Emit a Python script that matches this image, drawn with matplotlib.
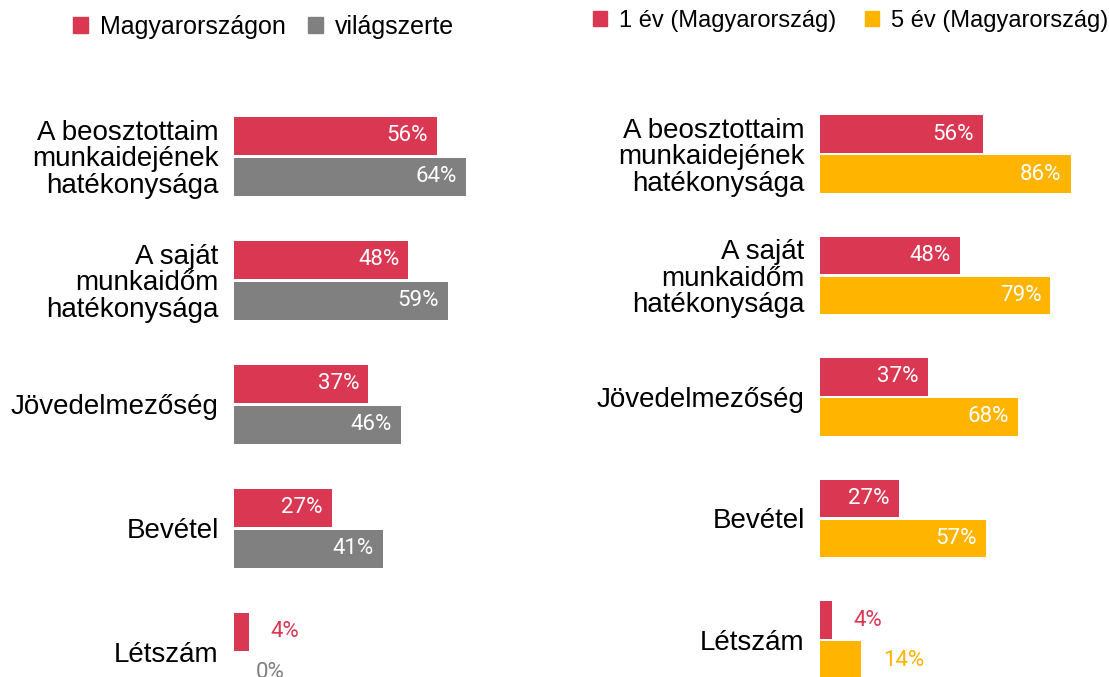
import matplotlib
matplotlib.use("Agg")
import matplotlib.pyplot as plt
from matplotlib.patches import Patch

# data
categories = ["A beosztottaim\nmunkaidejének\nhatékonysága",
              "A saját\nmunkaidőm\nhatékonysága",
              "Jövedelmezőség",
              "Bevétel",
              "Létszám"]
hu_now = [56, 48, 37, 27, 4]
world_now = [64, 59, 46, 41, 0]
hu_1y = [56, 48, 37, 27, 4]
hu_5y = [86, 79, 68, 57, 14]

left_labels = ["Magyarországon", "világszerte"]
right_labels = ["1 év (Magyarország)", "5 év (Magyarország)"]

RED = "#DA3752"
GREY = "#808080"
YELLOW = "#FFB400"

W, H = 1109, 677
fig = plt.figure(figsize=(W / 100, H / 100), dpi=100)

LABEL_FONT = "Liberation Sans"
VALUE_FONT = "Roboto"


def draw_panel(ax, series, colors, bar_h, offset):
    idx = list(range(len(categories)))
    for k, (vals, col) in enumerate(zip(series, colors)):
        ys = [i + (2 * k - 1) * offset for i in idx]
        ax.barh(ys, vals, height=bar_h, color=col, zorder=2)
        for y, v in zip(ys, vals):
            if v >= 15:
                ax.annotate(f"{v}%", (v, y), xytext=(-6.5, 0), textcoords="offset points",
                            ha="right", va="center", color="white", fontsize=16,
                            family=VALUE_FONT)
            else:
                ax.annotate(f"{v}%", (v, y), xytext=(16, 0), textcoords="offset points",
                            ha="left", va="center", color=col, fontsize=16,
                            family=VALUE_FONT)
    ax.set_yticks(idx)
    ax.set_yticklabels(categories, fontsize=20, family=LABEL_FONT, linespacing=1.02)
    ax.tick_params(axis="y", length=0, pad=11)
    ax.set_xticks([])
    for s in ax.spines.values():
        s.set_visible(False)


# left panel: 3.63 px per %, groups 124 px apart
ax1 = fig.add_axes([234 / W, 0, 363 / W, 1])
ax1.set_xlim(0, 100)
ax1.set_ylim((H - 156) / 124, -156 / 124)
draw_panel(ax1, [hu_now, world_now], [RED, GREY], 38 / 124, 20.5 / 124)

# right panel: 2.92 px per %, groups 121.5 px apart
ax2 = fig.add_axes([820 / W, 0, 277 / W, 1])
ax2.set_xlim(0, 95)
ax2.set_ylim((H - 154) / 121.5, -154 / 121.5)
draw_panel(ax2, [hu_1y, hu_5y], [RED, YELLOW], 37.5 / 121.5, 20 / 121.5)

leg_kw = dict(ncol=2, frameon=False, loc="center left", borderpad=0, borderaxespad=0,
              handlelength=0.6, handleheight=0.6)
fig.legend([Patch(color=RED), Patch(color=GREY)], left_labels,
           bbox_to_anchor=(73 / W, 1 - 27 / H), columnspacing=0.88, handletextpad=0.48,
           prop={"family": LABEL_FONT, "size": 18}, **leg_kw)
fig.legend([Patch(color=RED), Patch(color=YELLOW)], right_labels,
           bbox_to_anchor=(593 / W, 1 - 21 / H), columnspacing=1.2, handletextpad=0.52,
           prop={"family": LABEL_FONT, "size": 17}, **leg_kw)

fig.savefig("out.png", dpi=100)
